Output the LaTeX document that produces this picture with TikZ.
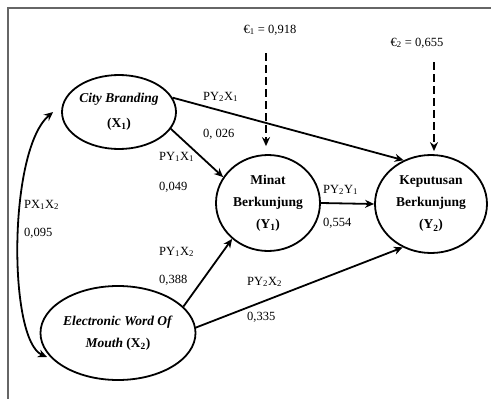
\documentclass[tikz,border=0pt]{standalone}
\usepackage{fontspec}
\setmainfont{Liberation Serif}
\usetikzlibrary{shapes.geometric,arrows.meta}
\begin{document}
\begin{tikzpicture}[x=1pt,y=-1pt,
  var/.style={draw, ellipse, line width=1.8pt, inner sep=0pt, align=center,
    font=\fontsize{13.5}{22}\selectfont\bfseries},
  path/.style={line width=1.8pt, -{Stealth[length=9pt,width=8pt]}},
  err/.style={line width=2.4pt, dash pattern=on 8pt off 4pt, -{Stealth[length=9pt,width=8pt]}},
  lbl/.style={anchor=west, inner sep=0pt, font=\fontsize{12.5}{14}\selectfont}]
\useasboundingbox (0,0) rectangle (491,399);
\draw[gray!80!black, line width=1.2pt] (8,399) -- (8,8) -- (491,8);
\node[var, minimum width=114pt, minimum height=74pt, font=\fontsize{13.5}{25}\selectfont\bfseries] (X1) at (119,112) {\textit{City Branding}\\(X\textsubscript{1})};
\node[var, minimum width=136pt, minimum height=94pt] (X2) at (118,333) {\textit{Electronic Word Of}\\\textit{Mouth} (X\textsubscript{2})};
\node[var, minimum width=104pt, minimum height=96pt] (Y1) at (268,203) {Minat\\Berkunjung\\(Y\textsubscript{1})};
\node[var, minimum width=112pt, minimum height=98pt] (Y2) at (431,204) {Keputusan\\Berkunjung\\(Y\textsubscript{2})};
\node[font=\fontsize{12.5}{14}\selectfont] (e1) at (270,30) {€\textsubscript{1} = 0,918};
\node[font=\fontsize{12.5}{14}\selectfont] (e2) at (417,43) {€\textsubscript{2} = 0,655};
\coordinate (e1s) at (266,53);
\coordinate (e2s) at (434,62);
\draw[err, shorten >=8pt] (e1s) -- (e1s |- Y1.north);
\draw[err, shorten >=3pt] (e2s) -- (e2s |- Y2.north);
\draw[path] (X1.15) -- (Y2.122);
\draw[path] (X1.-18) -- (Y1.150);
\draw[path] (Y1.east) -- (Y2.west);
\draw[path] (X2.22) -- (Y1.225);
\draw[path] (X2.4) -- (Y2.237);
\draw[line width=1.8pt, {Stealth[length=9pt,width=8pt]}-{Stealth[length=9pt,width=8pt]}]
  ([xshift=-8pt]X1.west) .. controls (8,150) and (8,340) .. (47,357);
\node[lbl] (l1) at (203,97) {PY\textsubscript{2}X\textsubscript{1}};
\node[lbl] (v1) at (203,134) {0, 026};
\node[lbl] (l2) at (159,157) {PY\textsubscript{1}X\textsubscript{1}};
\node[lbl] (v2) at (159,187) {0,049};
\node[lbl] (l3) at (24,205) {PX\textsubscript{1}X\textsubscript{2}};
\node[lbl] (v3) at (24,233) {0,095};
\node[lbl] (l4) at (159,252) {PY\textsubscript{1}X\textsubscript{2}};
\node[lbl] (v4) at (159,280) {0,388};
\node[lbl] (l5) at (247,282) {PY\textsubscript{2}X\textsubscript{2}};
\node[lbl] (v5) at (247,317) {0,335};
\node[lbl] (l6) at (323,190) {PY\textsubscript{2}Y\textsubscript{1}};
\node[lbl] (v6) at (323,223) {0,554};
\end{tikzpicture}
\end{document}
